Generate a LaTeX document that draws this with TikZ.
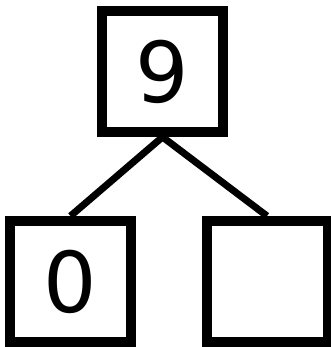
\documentclass[tikz,border=0pt]{standalone}
\usepackage{fontspec}
\setmainfont{DejaVu Sans}
\usetikzlibrary{positioning}
\tikzset{
  cell/.style={draw,line width=10pt,minimum size=121pt,inner sep=0pt,
               font=\fontsize{84}{84}\selectfont},
  branch/.style={-,line width=7pt},
}
\begin{document}
\begin{tikzpicture}[x=1pt,y=-1pt]
  \useasboundingbox (0,0) rectangle (330,347);
  % tree
  \node[cell] (root)  at (162.5,71.5) {9};
  \node[cell] (left)  at (70.5,281.5) {0};
  \node[cell] (right) at (267,281.5)  {};

  \draw[branch] (root.south)--(left.north);
  \draw[branch] (root.south)--(right.north);
\end{tikzpicture}
\end{document}
